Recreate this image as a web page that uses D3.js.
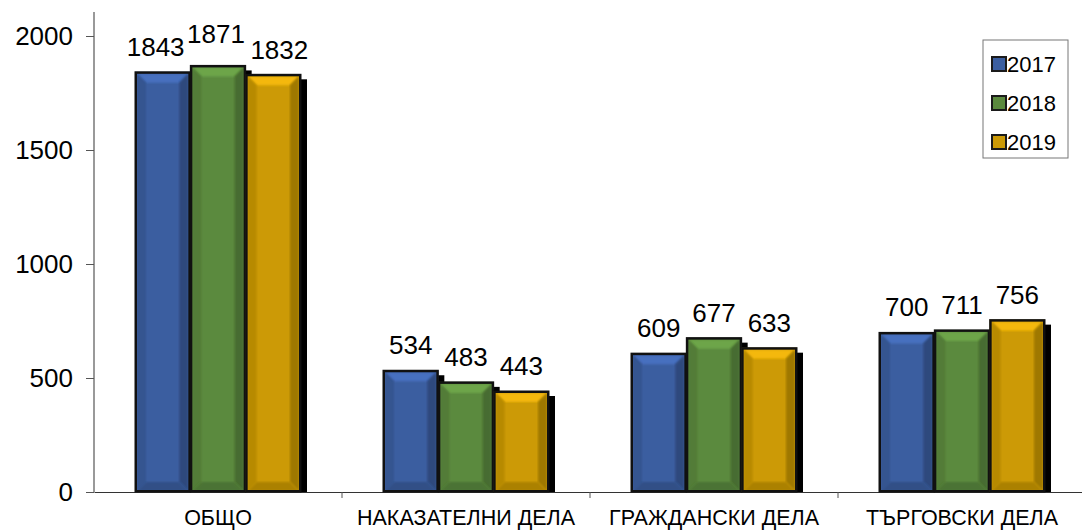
<!DOCTYPE html>
<html>
<head>
<meta charset="utf-8">
<script src="https://cdn.jsdelivr.net/npm/d3@7"></script>
<style>
  body { margin: 0; background: #fff; }
  text { font-family: "Liberation Sans", Arial, sans-serif; fill: #000; }
</style>
</head>
<body>
<svg id="chart" width="1082" height="530"></svg>
<script>
const categories = ['ОБЩО', 'НАКАЗАТЕЛНИ ДЕЛА', 'ГРАЖДАНСКИ ДЕЛА', 'ТЪРГОВСКИ ДЕЛА'];
const years = ['2017', '2018', '2019'];
const values2017 = [1843, 534, 609, 700];
const values2018 = [1871, 483, 677, 711];
const values2019 = [1832, 443, 633, 756];
const yTicks = [0, 500, 1000, 1500, 2000];
const colors = ['#3B5EA0', '#5B8A3E', '#CC9A06'];

const series = [values2017, values2018, values2019];
const data = categories.map((c, i) => ({
  cat: c,
  vals: years.map((y, j) => ({ year: y, idx: j, value: series[j][i], cat: c }))
}));

// labels in the first group are crowded, nudge them apart like the original
const labelNudge = { 'ОБЩО': [[-7, 0], [-2, -6], [6, 1]] };

const margin = { top: 36, right: -4, bottom: 38, left: 94 };
const width = 1082, height = 530;
const chartW = width - margin.left - margin.right;
const chartH = height - margin.top - margin.bottom;

const svg = d3.select('#chart');
const g = svg.append('g').attr('transform', `translate(${margin.left},${margin.top})`);

const x0 = d3.scaleBand().domain(categories).range([0, chartW]).paddingInner(0).paddingOuter(0);
const x1 = d3.scaleBand().domain(years).range([41, x0.bandwidth() - 41]).padding(0);
const y = d3.scaleLinear().domain([0, 2000]).range([chartH, 0]);

// Y axis
const yAxis = g.append('g')
  .call(d3.axisLeft(y).tickValues(yTicks).tickSize(8).tickPadding(13).tickFormat(d3.format('d')));
yAxis.select('.domain').remove();
yAxis.selectAll('.tick line').attr('stroke', '#555');
yAxis.selectAll('.tick text').style('font-size', '26px').style('font-family', '"Liberation Sans", Arial, sans-serif');
g.append('line')
  .attr('x1', 0).attr('x2', 0).attr('y1', -24).attr('y2', chartH)
  .attr('stroke', '#555').attr('stroke-width', 1.2);

// X axis
const xAxis = g.append('g')
  .attr('transform', `translate(0,${chartH})`)
  .call(d3.axisBottom(x0).tickSize(0).tickPadding(18));
xAxis.select('.domain').attr('stroke', '#333');
xAxis.selectAll('.tick text').style('font-size', '21.5px').style('font-family', '"Liberation Sans", Arial, sans-serif');
g.append('g').selectAll('line')
  .data(categories.slice(1))
  .join('line')
  .attr('x1', d => x0(d)).attr('x2', d => x0(d))
  .attr('y1', chartH).attr('y2', chartH + 6)
  .attr('stroke', '#555');

const defs = svg.append('defs');
const blur = defs.append('filter').attr('id', 'soft');
blur.append('feGaussianBlur').attr('stdDeviation', 0.8);

// Bars
const groups = g.selectAll('.grp')
  .data(data)
  .join('g')
  .attr('class', 'grp')
  .attr('transform', d => `translate(${x0(d.cat)},0)`);

const bw = x1.bandwidth();
const bev = 9;

function drawBar(sel) {
  sel.each(function(d) {
    const b = d3.select(this);
    const bx = x1(d.year), by = y(d.value), bh = chartH - by;
    const c = d3.color(colors[d.idx]);
    // drop shadow
    b.append('rect')
      .attr('x', bx + 6).attr('y', by + 5).attr('width', bw).attr('height', bh - 5)
      .attr('fill', '#000');
    b.append('rect')
      .attr('x', bx).attr('y', by).attr('width', bw).attr('height', bh)
      .attr('fill', c.formatHex());
    const L = bx + 2, R = bx + bw - 2, T = by + 2, B = chartH - 1;
    // top bevel (light)
    b.append('path')
      .attr('d', `M${L},${T}L${R},${T}L${R - bev},${T + bev}L${L + bev},${T + bev}Z`)
      .attr('fill', c.brighter(0.5).formatHex()).attr('filter', 'url(#soft)');
    // left bevel
    b.append('path')
      .attr('d', `M${L},${T}L${L + bev},${T + bev}L${L + bev},${B - bev}L${L},${B}Z`)
      .attr('fill', c.darker(0.3).formatHex()).attr('filter', 'url(#soft)');
    // right bevel (dark)
    b.append('path')
      .attr('d', `M${R},${T}L${R - bev},${T + bev}L${R - bev},${B - bev}L${R},${B}Z`)
      .attr('fill', c.darker(0.7).formatHex()).attr('filter', 'url(#soft)');
    // bottom bevel
    b.append('path')
      .attr('d', `M${L},${B}L${L + bev},${B - bev}L${R - bev},${B - bev}L${R},${B}Z`)
      .attr('fill', c.darker(0.5).formatHex()).attr('filter', 'url(#soft)');
    // outline
    b.append('rect')
      .attr('x', bx + 0.75).attr('y', by + 0.75).attr('width', bw - 1.5).attr('height', bh - 1.5)
      .attr('fill', 'none').attr('stroke', '#111').attr('stroke-width', 2.5);
  });
}

groups.selectAll('.bar')
  .data(d => d.vals)
  .join('g')
  .attr('class', 'bar')
  .call(drawBar);

// Value labels
const nudge = d => (labelNudge[d.cat] || [])[d.idx] || [0, 0];
groups.selectAll('.lbl')
  .data(d => d.vals)
  .join('text')
  .attr('class', 'lbl')
  .attr('x', d => x1(d.year) + bw / 2 + nudge(d)[0])
  .attr('y', d => y(d.value) - 16 + nudge(d)[1])
  .attr('text-anchor', 'middle')
  .style('font-size', '26px')
  .text(d => d.value);

// Legend
const lg = svg.append('g').attr('transform', 'translate(983,40)');
lg.append('rect')
  .attr('width', 85).attr('height', 118)
  .attr('fill', '#fff').attr('stroke', '#777').attr('stroke-width', 1);
years.forEach((yr, i) => {
  const row = lg.append('g').attr('transform', `translate(9,${24 + i * 39})`);
  const c = d3.color(colors[i]);
  row.append('rect').attr('x', 0).attr('y', -7).attr('width', 14).attr('height', 14)
    .attr('fill', c.formatHex()).attr('stroke', '#1a1a1a').attr('stroke-width', 2);
  row.append('text').attr('x', 15).attr('y', 8).style('font-size', '22px').text(yr);
});
</script>
</body>
</html>
